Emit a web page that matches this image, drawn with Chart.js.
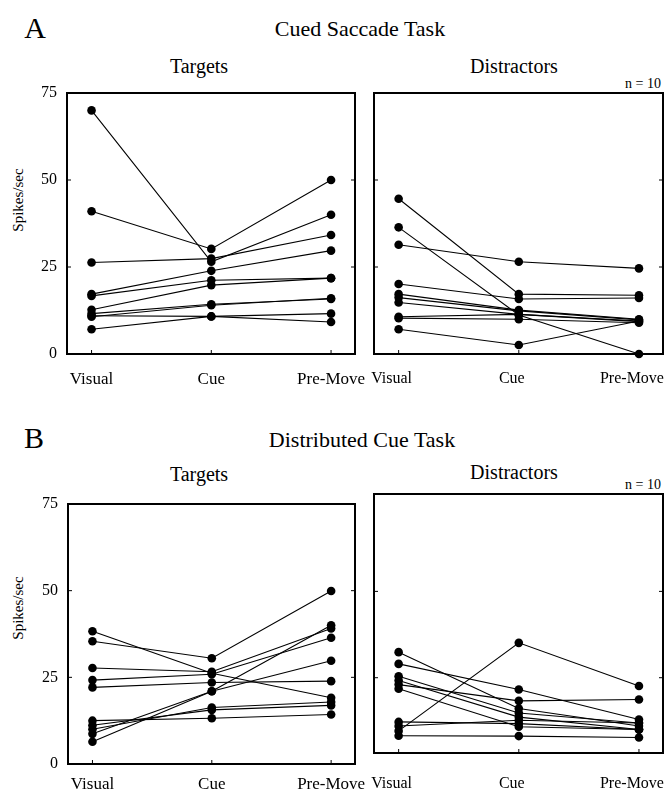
<!DOCTYPE html>
<html>
<head>
<meta charset="utf-8">
<script src="https://cdn.jsdelivr.net/npm/chart.js@4.4.1/dist/chart.umd.min.js"></script>
<style>
  body { margin: 0; width: 664px; height: 800px; background: #fff; position: relative; overflow: hidden;
         font-family: "Liberation Serif", "Times New Roman", serif; color: #000; }
  .t { position: absolute; white-space: nowrap; line-height: 1; transform: translate(-50%, -50%); }
  .r { position: absolute; white-space: nowrap; line-height: 1; transform: translate(-100%, -50%); }
  .rot { position: absolute; white-space: nowrap; line-height: 1; transform: translate(-50%, -50%) rotate(-90deg); }
  canvas { position: absolute; top: 0; }
</style>
</head>
<body>
<div class="t" style="left:35px; top:28px; font-size:30px;">A</div>
<div class="t" style="left:360px; top:29px; font-size:22px;">Cued Saccade Task</div>
<div class="t" style="left:199px; top:66px; font-size:20px;">Targets</div>
<div class="t" style="left:514px; top:66px; font-size:20px;">Distractors</div>
<div class="r" style="left:661px; top:84px; font-size:14px;">n = 10</div>
<div class="rot" style="left:18px; top:200px; font-size:15px;">Spikes/sec</div>

<div class="t" style="left:34px; top:438px; font-size:30px;">B</div>
<div class="t" style="left:362px; top:440px; font-size:22px;">Distributed Cue Task</div>
<div class="t" style="left:199px; top:474px; font-size:20px;">Targets</div>
<div class="t" style="left:514px; top:472px; font-size:20px;">Distractors</div>
<div class="r" style="left:661px; top:485px; font-size:14px;">n = 10</div>
<div class="rot" style="left:18px; top:608px; font-size:15px;">Spikes/sec</div>

<canvas id="aTarg" width="760" height="800"></canvas>
<canvas id="aDist" width="760" height="800"></canvas>
<canvas id="bTarg" width="760" height="800"></canvas>
<canvas id="bDist" width="760" height="800"></canvas>

<script>
const stages = ['Visual', 'Cue', 'Pre-Move'];
const yTicks = [0, 25, 50, 75];

// A - cued saccade task, targets (one entry per neuron)
const cuedTargVisual = [70, 41, 26.3, 17.2, 16.7, 12.7, 11.6, 10.7, 11.0, 7.1];
const cuedTargCue    = [26.5, 30.2, 27.4, 23.9, 21.2, 19.8, 14.3, 14.0, 10.8, 10.8];
const cuedTargPre    = [40, 50, 34.2, 29.7, 21.8, 21.8, 15.8, 16.0, 11.6, 9.2];

// A - cued saccade task, distractors
const cuedDistVisual = [44.6, 36.4, 31.4, 20.1, 17.2, 16.2, 14.8, 10.7, 10.3, 7.1];
const cuedDistCue    = [17.2, 11.2, 26.5, 15.8, 12.6, 12.4, 11.4, 11.4, 10.0, 2.6];
const cuedDistPre    = [16.9, 0, 24.6, 16.1, 10.0, 9.8, 9.5, 9.3, 9.0, 9.5];

// B - distributed cue task, targets
const distTargVisual = [38.3, 35.4, 27.7, 24.2, 22.1, 12.5, 11.2, 10.0, 8.7, 6.4];
const distTargCue    = [26.2, 30.5, 26.6, 25.9, 23.5, 13.2, 15.6, 16.3, 21.0, 21.0];
const distTargPre    = [19.1, 49.9, 39.1, 36.4, 23.9, 14.3, 16.9, 17.9, 29.8, 40.0];

// B - distributed cue task, distractors
const distDistVisual = [9.6, 32.4, 29.0, 25.4, 24.2, 23.0, 21.8, 12.2, 11.0, 8.2];
const distDistCue    = [35.1, 16.1, 21.6, 14.8, 13.6, 18.3, 10.8, 11.7, 12.7, 8.1];
const distDistPre    = [22.6, 11.0, 12.9, 11.9, 10.0, 18.7, 10.0, 10.0, 11.9, 7.7];

const CW = 760, CH = 800, XH = 40;

// box frame + small inward tick marks
const framePlugin = {
  id: 'frame',
  beforeDatasetsDraw(chart) {
    const a = chart.chartArea, c = chart.ctx;
    const xs = chart.scales.x, ys = chart.scales.y;
    c.save();
    c.strokeStyle = '#000';
    c.lineWidth = 1;
    c.beginPath();
    [25, 50].forEach(v => {
      const py = ys.getPixelForValue(v);
      c.moveTo(a.left, py); c.lineTo(a.left + 4, py);
      c.moveTo(a.right, py); c.lineTo(a.right - 4, py);
    });
    [0, 1, 2].forEach(v => {
      const px = xs.getPixelForValue(v);
      c.moveTo(px, a.bottom); c.lineTo(px, a.bottom - 4);
    });
    c.stroke();
    c.lineWidth = 2;
    c.strokeRect(a.left, a.top, a.right - a.left, a.bottom - a.top);
    c.restore();
  }
};

function makePanel(id, canvasLeft, box, visual, cue, pre, yMin, yMax, showY, labelPad, labelSize, labelShift) {
  const cv = document.getElementById(id);
  cv.style.left = canvasLeft + 'px';
  const datasets = visual.map((v, i) => ({
    data: [{x: 0, y: v}, {x: 1, y: cue[i]}, {x: 2, y: pre[i]}],
    showLine: true,
    borderColor: '#000',
    borderWidth: 1.1,
    pointRadius: 4.3,
    pointBorderWidth: 0,
    pointBackgroundColor: '#000',
    clip: false
  }));
  new Chart(cv, {
    type: 'scatter',
    data: { datasets },
    options: {
      responsive: false,
      animation: false,
      layout: {
        padding: {
          left: showY ? 0 : box.l - canvasLeft,
          top: box.t,
          right: canvasLeft + CW - box.r,
          bottom: CH - box.b - XH
        }
      },
      plugins: { legend: { display: false }, tooltip: { enabled: false } },
      scales: {
        x: {
          type: 'linear', min: -0.205, max: 2.2,
          afterBuildTicks: s => { s.ticks = [0, 1, 2].map(v => ({ value: v })); },
          afterFit: s => { s.height = XH; },
          grid: { display: false, drawTicks: false },
          border: { display: false },
          ticks: {
            padding: labelPad, labelOffset: labelShift, color: '#000', autoSkip: false, maxRotation: 0,
            font: { family: 'Liberation Serif', size: labelSize },
            callback: v => stages[v]
          }
        },
        y: {
          type: 'linear', min: yMin, max: yMax, display: showY,
          afterBuildTicks: s => { s.ticks = yTicks.map(v => ({ value: v })); },
          afterFit: s => { if (showY) s.width = box.l - canvasLeft; },
          grid: { display: false, drawTicks: false },
          border: { display: false },
          ticks: {
            padding: 10, color: '#000',
            font: { family: 'Liberation Serif', size: 16 }
          }
        }
      }
    },
    plugins: [framePlugin]
  });
}

makePanel('aTarg', 0,   {l: 67,  t: 93,  r: 355, b: 354}, cuedTargVisual, cuedTargCue, cuedTargPre, 0, 75, true, 15, 17, 0);
makePanel('aDist', 300, {l: 374, t: 93,  r: 663, b: 354}, cuedDistVisual, cuedDistCue, cuedDistPre, 0, 75, false, 15, 16, -7);
makePanel('bTarg', 0,   {l: 68,  t: 504, r: 355, b: 764}, distTargVisual, distTargCue, distTargPre, 0, 75, true, 10, 17, 0);
makePanel('bDist', 300, {l: 374, t: 494, r: 663, b: 753}, distDistVisual, distDistCue, distDistPre, 3.2, 78.2, false, 21, 16, -7);
</script>
</body>
</html>
